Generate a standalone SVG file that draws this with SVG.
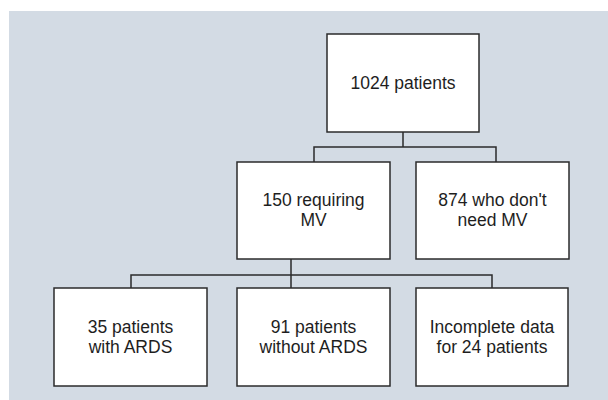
<svg xmlns="http://www.w3.org/2000/svg" width="608" height="400" viewBox="0 0 608 400">
<style>
.box{fill:#ffffff;stroke:#2b2b2b;stroke-width:1.5}
.ln{fill:none;stroke:#2b2b2b;stroke-width:1.5}
.t{font-family:"Liberation Sans",Arial,sans-serif;font-size:17.5px;fill:#1e1e1e;text-anchor:middle}
</style>
<rect x="9" y="11" width="599" height="389" fill="#d3dbe4"/>
<g id="connectors">
<path class="ln" d="M403 132V147M314 162V147H496V162"/>
<path class="ln" d="M291 259V275M131 288V275H492V288M291 275V288"/>
</g>
<g id="n1024"><rect class="box" x="327" y="34" width="152" height="98"/><text class="t" x="403" y="89">1024 patients</text></g>
<g id="n150"><rect class="box" x="237" y="162" width="153" height="97"/><text class="t" x="313.5" y="206">150 requiring</text><text class="t" x="313.5" y="226">MV</text></g>
<g id="n874"><rect class="box" x="416" y="162" width="153" height="97"/><text class="t" x="492.5" y="206">874 who don't</text><text class="t" x="492.5" y="226">need MV</text></g>
<g id="n35"><rect class="box" x="54" y="288" width="153" height="98"/><text class="t" x="130.5" y="333">35 patients</text><text class="t" x="130.5" y="353">with ARDS</text></g>
<g id="n91"><rect class="box" x="237" y="288" width="153" height="98"/><text class="t" x="313.5" y="333">91 patients</text><text class="t" x="313.5" y="353">without ARDS</text></g>
<g id="n24"><rect class="box" x="416" y="288" width="152" height="98"/><text class="t" x="492" y="333">Incomplete data</text><text class="t" x="492" y="353">for 24 patients</text></g>
</svg>
